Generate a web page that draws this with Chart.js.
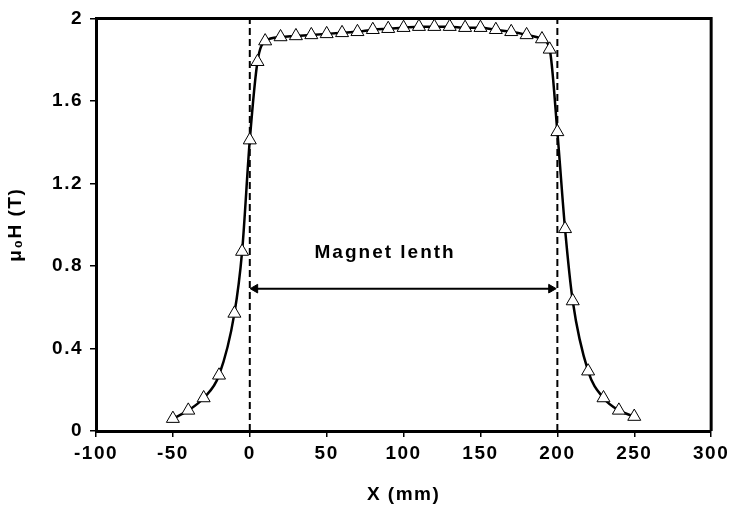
<!DOCTYPE html>
<html>
<head>
<meta charset="utf-8">
<script src="https://cdn.jsdelivr.net/npm/chart.js@4.4.1/dist/chart.umd.min.js"></script>
<style>
	html, body { margin: 0; padding: 0; background: #fff; }
	#wrap { width: 732px; height: 510px; }
</style>
</head>
<body>
<div id="wrap"><canvas id="field"></canvas></div>
<script>
// ----- ----- -----
// data
// ----- ----- -----

const posX = [-50, -40, -30, -20, -10, -5, 0, 5, 10, 20, 30, 40, 50, 60, 70, 80, 90, 100,
	110, 120, 130, 140, 150, 160, 170, 180, 190, 195, 200, 205, 210, 220, 230, 240, 250];
const fieldT = [0.06, 0.10, 0.16, 0.27, 0.57, 0.87, 1.41, 1.79, 1.89, 1.91, 1.915, 1.92, 1.925, 1.93, 1.935, 1.945, 1.95, 1.955,
	1.96, 1.96, 1.96, 1.955, 1.955, 1.945, 1.935, 1.92, 1.90, 1.85, 1.45, 0.98, 0.63, 0.29, 0.16, 0.10, 0.07];

const magnetEdges = [0, 200];
const arrowX = [3.5, 196];
const arrowY = 0.69;
const arrowText = 'Magnet lenth';
const arrowTextAt = [88, 0.865];

const xTicks = [-100, -50, 0, 50, 100, 150, 200, 250, 300];
const yTicks = [0, 0.4, 0.8, 1.2, 1.6, 2];

const font = 'Liberation Sans';

// ----- ----- -----
// datasets
// ----- ----- -----

let datasets = [{
	label: 'field',
	data: posX.map((x, i) => ({x: x, y: fieldT[i]})),
	borderColor: '#000',
	borderWidth: 2.5,
	cubicInterpolationMode: 'monotone',
	pointStyle: 'triangle',
	pointRadius: 7.5,
	pointBorderWidth: 1,
	pointBorderColor: '#000',
	pointBackgroundColor: '#fff',
	order: 0
}];

magnetEdges.forEach((edge) => {
	datasets.push({
		label: 'edge ' + edge,
		data: [{x: edge, y: yTicks[0]}, {x: edge, y: yTicks[yTicks.length - 1]}],
		borderColor: '#000',
		borderWidth: 2,
		borderDash: [7, 4],
		pointRadius: 0,
		order: 2
	});
});

// arrow: line plus two rotated triangles as heads
datasets.push({
	label: 'arrow',
	data: arrowX.map(x => ({x: x, y: arrowY})),
	borderColor: '#000',
	borderWidth: 2,
	pointStyle: 'triangle',
	pointRadius: 5,
	pointRotation: [-90, 90],
	pointBackgroundColor: '#000',
	pointBorderColor: '#000',
	pointBorderWidth: 1,
	order: 1
});

// ----- ----- -----
// plugins
// ----- ----- -----

const spacing = {
	id: 'spacing',
	beforeDraw(chart) {
		chart.ctx.letterSpacing = '1.5px';
	}
};

const frame = {
	id: 'frame',
	afterDatasetsDraw(chart) {
		const a = chart.chartArea;
		const c = chart.ctx;
		c.save();
		c.strokeStyle = '#000';
		c.lineWidth = 3;
		c.beginPath();
		c.moveTo(a.left, a.top);
		c.lineTo(a.right, a.top);
		c.lineTo(a.right, a.bottom);
		c.stroke();
		c.restore();
	}
};

const label = {
	id: 'label',
	afterDatasetsDraw(chart) {
		const c = chart.ctx;
		const px = chart.scales.x.getPixelForValue(arrowTextAt[0]);
		const py = chart.scales.y.getPixelForValue(arrowTextAt[1]);
		c.save();
		c.fillStyle = '#000';
		c.font = 'bold 19px "' + font + '"';
		c.letterSpacing = '2px';
		c.textAlign = 'center';
		c.textBaseline = 'middle';
		c.fillText(arrowText, px, py);
		c.restore();
	}
};

// ----- ----- -----
// chart
// ----- ----- -----

Chart.defaults.font.family = font;
Chart.defaults.color = '#000';

new Chart('field', {
	type: 'line',
	data: {datasets: datasets},
	plugins: [spacing, frame, label],
	options: {
		responsive: true,
		maintainAspectRatio: false,
		animation: false,
		layout: {padding: {top: 17, right: 19, left: 0, bottom: 0}},
		plugins: {
			legend: {display: false},
			tooltip: {enabled: false}
		},
		scales: {
			x: {
				type: 'linear',
				min: xTicks[0],
				max: xTicks[xTicks.length - 1],
				afterBuildTicks: (s) => { s.ticks = xTicks.map(v => ({value: v})); },
				afterFit: (s) => { s.height = 79; },
				border: {width: 3, color: '#000'},
				grid: {drawOnChartArea: false, drawTicks: true, tickLength: 6, color: '#000', lineWidth: 1.5},
				ticks: {font: {size: 19, weight: 'bold'}, padding: 5, maxRotation: 0},
				title: {display: true, text: 'X (mm)', font: {size: 19, weight: 'bold'}, padding: {top: 2}}
			},
			y: {
				min: yTicks[0],
				max: yTicks[yTicks.length - 1],
				afterBuildTicks: (s) => { s.ticks = yTicks.map(v => ({value: v})); },
				afterFit: (s) => { s.width = 96; },
				border: {width: 3, color: '#000'},
				grid: {drawOnChartArea: false, drawTicks: true, tickLength: 6, color: '#000', lineWidth: 1.5},
				ticks: {font: {size: 19, weight: 'bold'}, padding: 7, callback: (v) => String(+v.toFixed(1))},
				title: {display: true, text: 'μ₀H (T)', font: {size: 19, weight: 'bold'}, padding: {bottom: 4}}
			}
		}
	}
});
</script>
</body>
</html>
